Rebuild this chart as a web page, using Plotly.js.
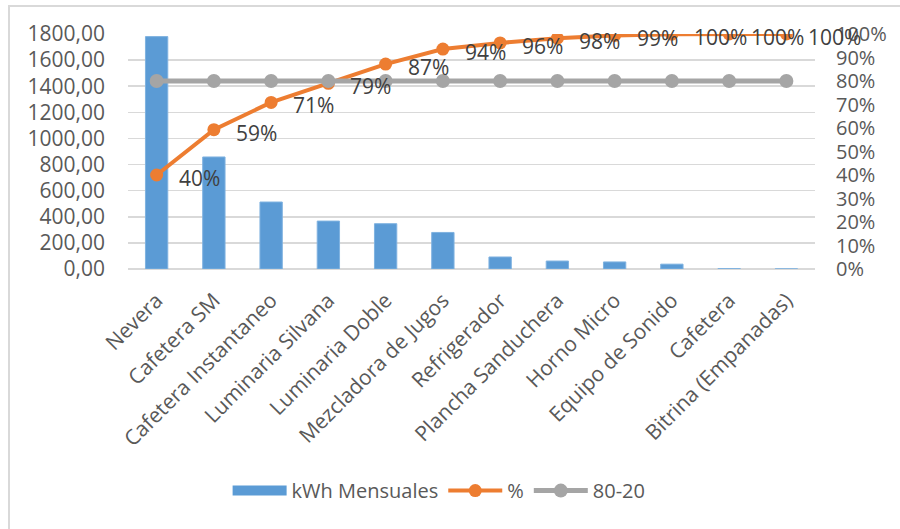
<!DOCTYPE html>
<html>
<head>
<meta charset="utf-8">
<script src="https://cdn.plot.ly/plotly-3.0.1.min.js"></script>
<style>
  html, body { margin: 0; padding: 0; background: #fff; }
  #wrap { position: relative; width: 900px; height: 529px; }
  #chart { width: 900px; height: 529px; }
  #frame { position: absolute; left: 8px; top: 5px; width: 892px; height: 524px;
           border-left: 2px solid #d9d9d9; border-top: 2px solid #d9d9d9; pointer-events: none; box-sizing: border-box; }
</style>
</head>
<body>
<div id="wrap"><div id="chart"></div><div id="frame"></div></div>
<script>
const categories = ["Nevera", "Cafetera SM", "Cafetera Instantaneo", "Luminaria Silvana",
  "Luminaria Doble", "Mezcladora de Jugos", "Refrigerador", "Plancha Sanduchera",
  "Horno Micro", "Equipo de Sonido", "Cafetera", "Bitrina (Empanadas)"];
const kwhMensuales = [1780, 858, 513, 367, 347, 280, 92, 61, 54, 37, 3, 1];
const pctAcumulado = [0.40, 0.593, 0.709, 0.79, 0.872, 0.936, 0.962, 0.982, 0.994, 0.999, 1.0, 1.0];
const regla8020 = [0.8, 0.8, 0.8, 0.8, 0.8, 0.8, 0.8, 0.8, 0.8, 0.8, 0.8, 0.8];
const leftTicks = [0, 200, 400, 600, 800, 1000, 1200, 1400, 1600, 1800];

const FONT = "Open Sans, sans-serif";
const TXT = "#595959";
const GRID = "#d9d9d9";
const BLUE = "#5B9BD5";

const traces = [
  { type: "bar", name: "kWh Mensuales", x: categories, y: kwhMensuales, showlegend: false,
    marker: { color: BLUE, line: { color: "#7fb2e0", width: 1 } }, yaxis: "y" },
  // legend swatch for the bars (wide rectangle as in the reference); no visible point
  { type: "scatter", mode: "lines", name: "kWh Mensuales", x: [categories[0]], y: [null],
    line: { color: BLUE, width: 14 }, yaxis: "y" },
  { type: "scatter", mode: "lines+markers", name: "%", x: categories, y: pctAcumulado,
    line: { color: "#ED7D31", width: 4 }, marker: { color: "#ED7D31", size: 13 }, yaxis: "y2" },
  { type: "scatter", mode: "lines+markers", name: "80-20", x: categories, y: regla8020,
    line: { color: "#A5A5A5", width: 5 }, marker: { color: "#A5A5A5", size: 14 }, yaxis: "y2" }
];

const annotations = categories.map((c, i) => ({
  x: c, y: pctAcumulado[i], xref: "x", yref: "y2",
  text: Math.round(pctAcumulado[i] * 100) + "%",
  showarrow: false, xanchor: "left", yanchor: "middle",
  xshift: 20, yshift: -3,
  font: { family: FONT, size: 21, color: "#404040" }
}));

const layout = {
  width: 900, height: 529,
  margin: { l: 128, r: 85, t: 34, b: 260 },
  paper_bgcolor: "#fff", plot_bgcolor: "#fff",
  separators: ",.",
  font: { family: FONT, size: 20, color: TXT },
  bargap: 0.61,
  showlegend: true,
  legend: { orientation: "h", x: 0.145, xanchor: "left", y: -0.86, yanchor: "top",
            font: { family: FONT, size: 20, color: TXT }, itemwidth: 54, tracegroupgap: 0 },
  xaxis: { type: "category", range: [-0.5, 11.5], autorange: false, tickangle: -45,
           showgrid: false, showline: false, ticks: "", automargin: false,
           tickfont: { family: FONT, size: 21, color: TXT }, ticklabelstandoff: 14 },
  yaxis: { range: [0, 1800], autorange: false, tickvals: leftTicks, tickformat: ".2f", showgrid: true,
           gridcolor: GRID, gridwidth: 1.5, zeroline: true, zerolinecolor: GRID, zerolinewidth: 1.5,
           showline: false, ticks: "", automargin: false,
           tickfont: { family: FONT, size: 21, color: TXT }, ticklabelstandoff: 22 },
  yaxis2: { range: [0, 1], autorange: false, dtick: 0.1, tickformat: ".0%", overlaying: "y", side: "right",
            showgrid: false, zeroline: false, showline: false, ticks: "", automargin: false,
            tickfont: { family: FONT, size: 20, color: TXT }, ticklabelstandoff: 20 },
  annotations: annotations
};

Plotly.newPlot("chart", traces, layout, { displayModeBar: false, staticPlot: true });
</script>
</body>
</html>
